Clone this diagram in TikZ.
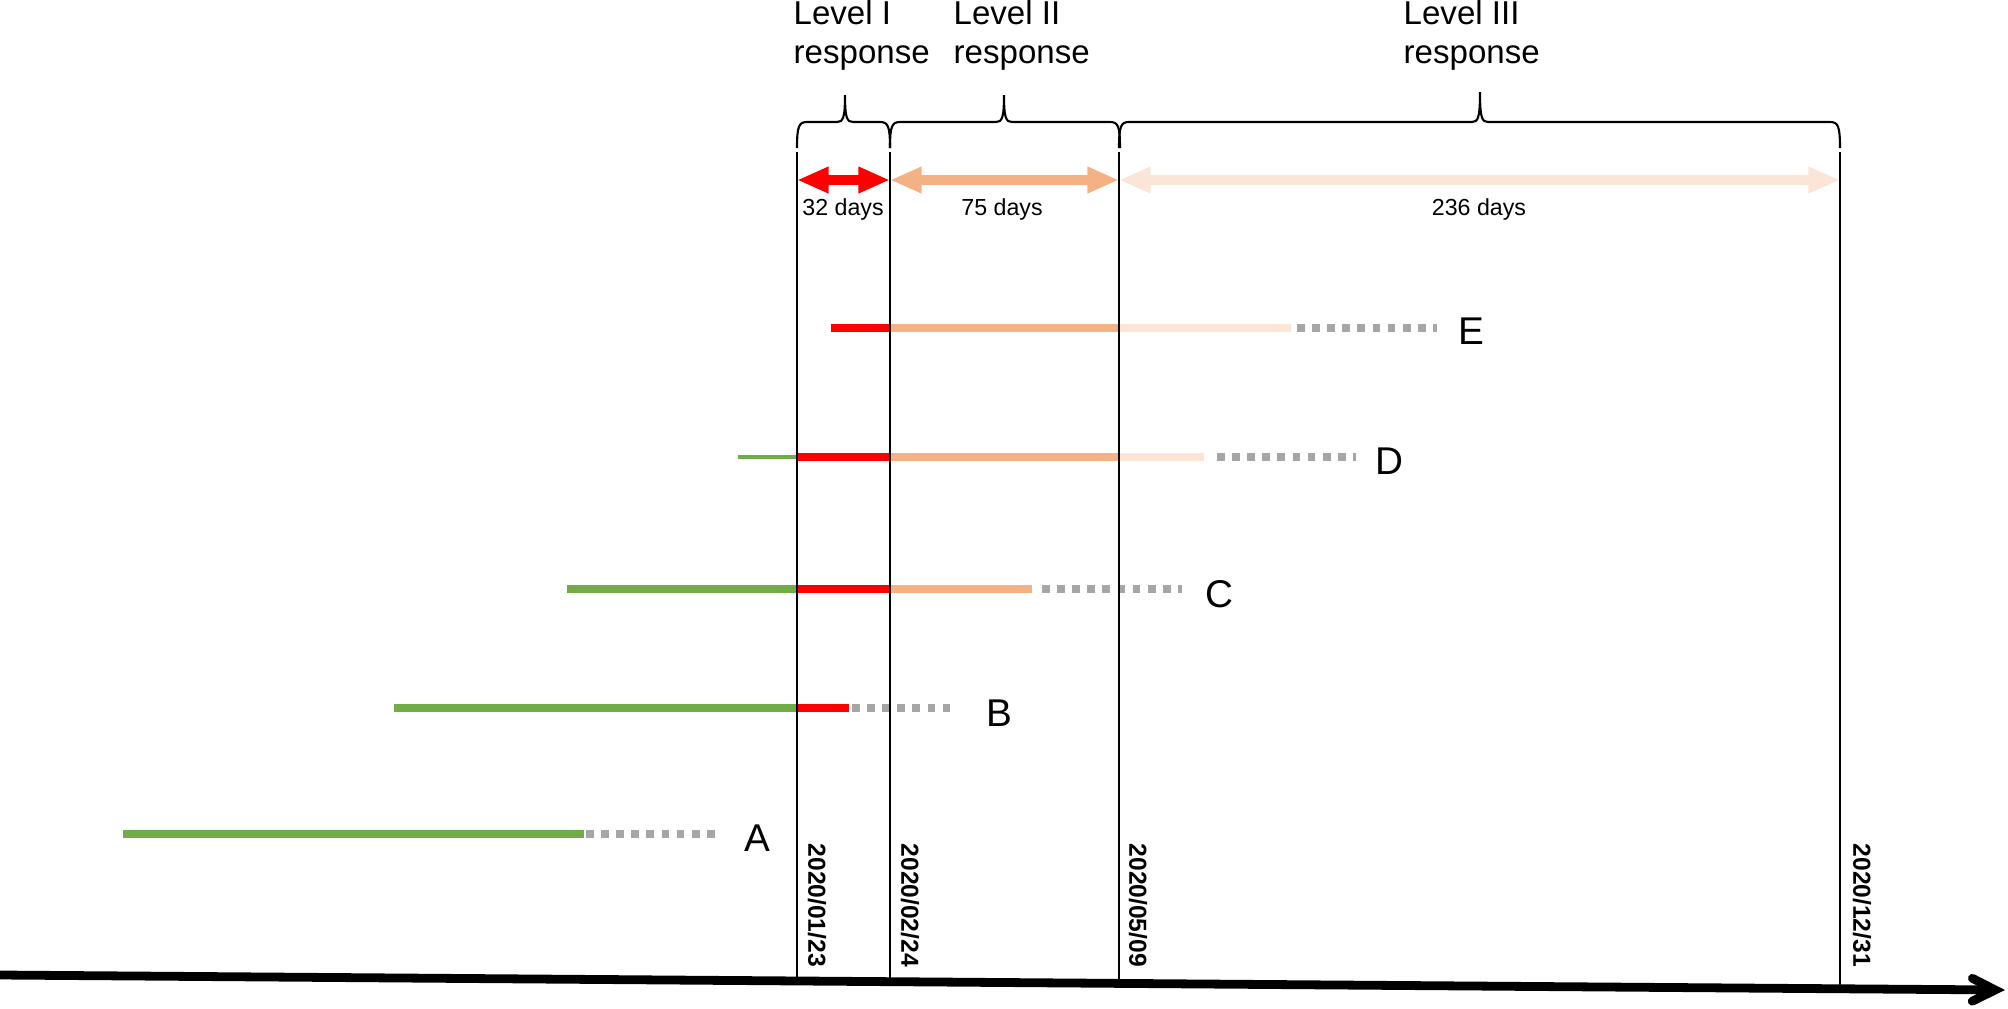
\documentclass[tikz,border=0pt]{standalone}
\usepackage{fontspec}
\setmainfont{Liberation Sans}
\usetikzlibrary{arrows.meta}

\definecolor{levelone}{HTML}{FF0000}
\definecolor{leveltwo}{HTML}{F4B183}
\definecolor{levelthree}{HTML}{FBE5D6}
\definecolor{prior}{HTML}{70AD47}
\definecolor{later}{HTML}{A6A6A6}

\begin{document}
\begin{tikzpicture}[%
		x=0.01cm,y=-0.01cm,
		axis/.style={line width=2.5pt,-{Straight Barb[length=6.5pt,width=6.5pt,line cap=round]}},%
		dateline/.style={line width=0.8pt},%
		bracket/.style={line width=0.6pt},%
		span/.style={line width=2.8pt,{Triangle[length=9pt,width=7pt]}-{Triangle[length=9pt,width=7pt]}},%
		bar/.style={line width=2.2pt},%
		tail/.style={bar,color=later,dash pattern=on 2.2pt off 2.1pt},%
		datelabel/.style={rotate=-90,anchor=west,inner sep=0,font=\bfseries\fontsize{7}{8}\selectfont},%
		levellabel/.style={anchor=north west,inner sep=0,align=left,font=\fontsize{9.4}{11.1}\selectfont},%
		dayslabel/.style={anchor=base,inner sep=0,font=\fontsize{6.6}{8}\selectfont},%
		group/.style={inner sep=0,font=\fontsize{11}{13}\selectfont}
		]
		\useasboundingbox (0,0) rectangle (2008,1008);

		% key dates
		\coordinate (jan23) at (797,180);
		\coordinate (feb24) at (890,180);
		\coordinate (may09) at (1119,180);
		\coordinate (dec31) at (1840,180);

		% response levels
		\node[levellabel] (lvlI) at (793,0) {Level I\\response};
		\node[levellabel] (lvlII) at (953,0) {Level II\\response};
		\node[levellabel] (lvlIII) at (1403,0) {Level III\\response};
		\draw[bracket] (797,148) .. controls (797,126) and (799,122) .. (807,122) -- (837,122)
			.. controls (843,122) and (845,118) .. (845,95) .. controls (845,118) and (847,122) .. (853,122)
			-- (880,122) .. controls (888,122) and (890,126) .. (890,148);
		\draw[bracket] (890,148) .. controls (890,126) and (892,122) .. (900,122) -- (996,122)
			.. controls (1002,122) and (1004,118) .. (1004,95) .. controls (1004,118) and (1006,122) .. (1012,122)
			-- (1110,122) .. controls (1118,122) and (1120,126) .. (1120,148);
		\draw[bracket] (1119,148) .. controls (1119,126) and (1121,122) .. (1129,122) -- (1472,122)
			.. controls (1478,122) and (1480,118) .. (1480,92) .. controls (1480,118) and (1482,122) .. (1488,122)
			-- (1830,122) .. controls (1838,122) and (1840,126) .. (1840,148);

		% durations
		\draw[span,levelone] (jan23) -- (feb24);
		\draw[span,leveltwo] (feb24) -- (may09);
		\draw[span,levelthree] (may09) -- (dec31);
		\node[dayslabel] (daysI) at (843,215) {32 days};
		\node[dayslabel] (daysII) at (1002,215) {75 days};
		\node[dayslabel] (daysIII) at (1479,215) {236 days};

		% group E
		\draw[bar,levelone] (831,328) -- (890,328);
		\draw[bar,leveltwo] (890,328) -- (1119,328);
		\draw[bar,levelthree] (1119,328) -- (1291,328);
		\draw[tail] (1297,328) -- (1437,328);
		\node[group] (E) at (1471,331) {E};
		% group D
		\draw[bar,prior,line width=1.4pt] (738,457) -- (797,457);
		\draw[bar,levelone] (797,457) -- (890,457);
		\draw[bar,leveltwo] (890,457) -- (1119,457);
		\draw[bar,levelthree] (1119,457) -- (1204,457);
		\draw[tail] (1217,457) -- (1356,457);
		\node[group] (D) at (1389,461) {D};
		% group C
		\draw[bar,prior] (567,589) -- (797,589);
		\draw[bar,levelone] (797,589) -- (890,589);
		\draw[bar,leveltwo] (890,589) -- (1032,589);
		\draw[tail] (1042,589) -- (1182,589);
		\node[group] (C) at (1219,594) {C};
		% group B
		\draw[bar,prior] (394,708) -- (797,708);
		\draw[bar,levelone] (797,708) -- (849,708);
		\draw[tail] (852,708) -- (951,708);
		\node[group] (B) at (999,713) {B};
		% group A
		\draw[bar,prior] (123,834) -- (584,834);
		\draw[tail] (586,834) -- (721,834);
		\node[group] (A) at (757,838) {A};

		% date lines
		\draw[dateline] (797,152) -- (797,981);
		\draw[dateline] (890,152) -- (890,982);
		\draw[dateline] (1119,152) -- (1119,983);
		\draw[dateline] (1840,152) -- (1840,989);
		\node[datelabel] (dI) at (817,843) {2020/01/23};
		\node[datelabel] (dII) at (910,843) {2020/02/24};
		\node[datelabel] (dIII) at (1138,843) {2020/05/09};
		\node[datelabel] (dIV) at (1862,843) {2020/12/31};

		% time axis
		\coordinate (start) at (0,975);
		\coordinate (end) at (2005,990);
		\draw[axis] (start) -- (end);
	\end{tikzpicture}
\end{document}
